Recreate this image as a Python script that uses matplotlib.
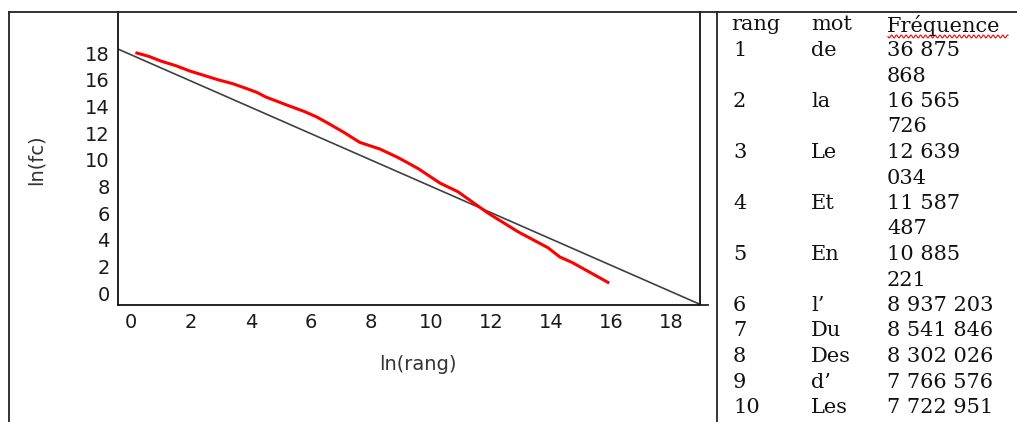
import numpy as np
import matplotlib
matplotlib.use('Agg')
import matplotlib.pyplot as plt
from matplotlib.lines import Line2D

W, H = 1017, 422

# red curve: ln(rang) vs ln(fc)
ln_rang = [0.2, 0.6, 1.0, 1.5, 1.97, 2.4, 2.9, 3.4, 3.9, 4.2, 4.5, 5.2, 5.8, 6.2, 6.6,
           7.1, 7.63, 8.3, 8.87, 9.2, 9.6, 10.3, 10.9, 11.4, 11.9, 12.4, 12.9, 13.4,
           13.9, 14.3, 14.7, 15.1, 15.5, 15.9]
ln_fc = [18.0, 17.75, 17.4, 17.05, 16.65, 16.35, 16.0, 15.7, 15.3, 15.05, 14.7, 14.1,
         13.6, 13.2, 12.7, 12.05, 11.3, 10.8, 10.2, 9.8, 9.3, 8.25, 7.6, 6.8, 6.0,
         5.3, 4.6, 4.0, 3.4, 2.7, 2.3, 1.8, 1.3, 0.8]

# black fitted line
fit_x = [-0.43, 18.97]
fit_y = [18.3, -0.85]

xticks = [0, 2, 4, 6, 8, 10, 12, 14, 16, 18]
yticks = [0, 2, 4, 6, 8, 10, 12, 14, 16, 18]

# table
rangs = ['1', '2', '3', '4', '5', '6', '7', '8', '9', '10']
mots = ['de', 'la', 'Le', 'Et', 'En', 'l\u2019', 'Du', 'Des', 'd\u2019', 'Les']
freqs = ['36 875\n868', '16 565\n726', '12 639\n034', '11 587\n487', '10 885\n221',
         '8 937 203', '8 541 846', '8 302 026', '7 766 576', '7 722 951']


def fx(px):
    return px / W


def fy(py):
    return 1 - py / H


fig = plt.figure(figsize=(W / 100, H / 100), dpi=100)
fig.patch.set_facecolor('white')

ax = fig.add_axes([fx(118), fy(305), (700 - 118) / W, (305 - 12) / H])
ax.plot(fit_x, fit_y, color='#404040', lw=1.2, solid_capstyle='butt')
ax.plot(ln_rang, ln_fc, color='#ff0000', lw=2.2)
ax.set_xlim(-0.43, 18.97)
ax.set_ylim(-0.9, 21.08)
ax.set_xticks(xticks)
ax.set_yticks(yticks)
ax.tick_params(length=0, labelsize=14, colors='#1a1a1a')
ax.tick_params(axis='x', pad=6)
ax.tick_params(axis='y', pad=6)
ax.spines['top'].set_visible(False)
for s in ['left', 'bottom', 'right']:
    ax.spines[s].set_linewidth(1.3)
    ax.spines[s].set_color('#111111')
ax.set_xlabel('ln(rang)', fontsize=14, color='#333333')
ax.set_ylabel('ln(fc)', fontsize=14, color='#333333')
ax.xaxis.set_label_coords(0.515, -0.171)
ax.yaxis.set_label_coords(-0.125, 0.495)

# frame lines of the page
lines = [
    ([9, W], [12, 12]),
    ([9, 9], [12, H]),
    ([717, 717], [12, H]),
    ([700, 708], [305, 305]),
]
for xs, ys in lines:
    fig.add_artist(Line2D([fx(v) for v in xs], [fy(v) for v in ys],
                          color='#222222', lw=1.3))

# table text
tfont = dict(family='DejaVu Serif', fontsize=15, color='#111111', va='center')
fig.text(fx(731), fy(25), 'rang', **tfont)
fig.text(fx(811), fy(25), 'mot', **tfont)
fig.text(fx(887), fy(25), 'Fréquence', **tfont)

# spelling squiggle under Fréquence
sx = np.linspace(888, 1008, 240)
sy = 36.5 + 1.4 * np.sin((sx - 888) * 1.3)
fig.add_artist(Line2D(fx(sx), fy(sy), color='#e02020', lw=0.9))

row_y = 50.5
step = 25.5
for r, m, f in zip(rangs, mots, freqs):
    fig.text(fx(733), fy(row_y), r, **tfont)
    fig.text(fx(811), fy(row_y), m, **tfont)
    parts = f.split('\n')
    for k, p in enumerate(parts):
        fig.text(fx(887), fy(row_y + k * step), p, **tfont)
    row_y += step * len(parts)

fig.savefig('out.png', dpi=100)
